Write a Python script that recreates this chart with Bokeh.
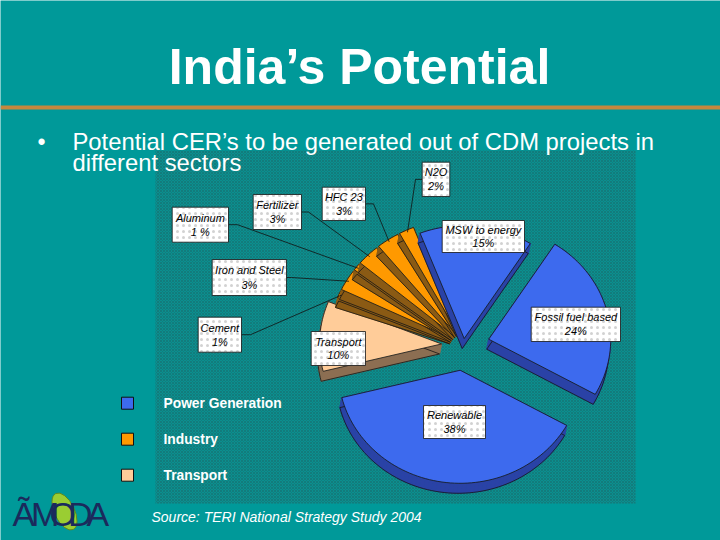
import numpy as np
from bokeh.plotting import figure
from bokeh.models import Range1d
from bokeh.embed import file_html
from bokeh.resources import INLINE
from bokeh.core.properties import value

# ---------------- data ----------------
sectors = ["Renewable", "Fossil fuel based", "MSW to energy", "N2O", "HFC 23",
           "Fertilizer", "Aluminum", "Iron and Steel", "Cement", "Transport"]
shares = [38, 24, 15, 2, 3, 3, 1, 3, 1, 10]
share_labels = ["38%", "24%", "15%", "2%", "3%", "3%", "1 %", "3%", "1%", "10%"]
sector_group = ["Power Generation", "Power Generation", "Power Generation",
                "Industry", "Industry", "Industry", "Industry", "Industry", "Industry",
                "Transport"]
legend_groups = ["Power Generation", "Industry", "Transport"]

title = "India\u2019s Potential"
bullet_lines = ["Potential CER\u2019s to be generated out of CDM projects in", "different sectors"]
source = "Source: TERI National Strategy Study 2004"
logo_letters = ["\u00c3", "M", "O", "D", "A"]

# ---------------- styles / layout ----------------
BG = "#009999"
top_col = {"Power Generation": "#3D6AEE", "Industry": "#FF9900", "Transport": "#FFCC99"}
side_col = {"Power Generation": "#2A42A6", "Industry": "#8A5A14", "Transport": "#8C6E52"}
CX, CY = 463, 345          # pie centre (px)
RX, RY = 122, 113          # pie radii
START = 194                # start angle (deg)
EXT = (-2, 10)             # extrusion of rim
explode = [25, 26, 7, 14, 14, 14, 14, 14, 14, 22]
apex_ext = {"Power Generation": (-2, 10), "Industry": (-1, 4), "Transport": (-2, 10)}
# label boxes: left, top, width, height, leader attach side, elbow x
boxes = {
    "N2O": (421.7, 161.7, 27.6, 34.3, "left", 415),
    "HFC 23": (321.7, 186.7, 43.3, 33.3, "right", 373),
    "Fertilizer": (252.7, 194, 48.3, 35, "right", 308),
    "Aluminum": (171.7, 206.7, 56.3, 35, "right", 237),
    "Iron and Steel": (211.7, 259, 74.3, 36, "right", 291),
    "Cement": (197.7, 316.7, 43.3, 35, "right", 250),
    "Transport": (310.7, 331, 54.3, 34, None, None),
    "MSW to energy": (441.7, 220, 82.3, 32, None, None),
    "Fossil fuel based": (530.7, 306.7, 89.3, 34.3, None, None),
    "Renewable": (423, 405, 62, 33, None, None),
}

p = figure(width=720, height=540, x_range=Range1d(0, 720), y_range=Range1d(540, 0),
           output_backend="svg", toolbar_location=None, x_axis_type=None, y_axis_type=None,
           min_border=0, min_border_left=0, min_border_right=0, min_border_top=0,
           min_border_bottom=0)
p.outline_line_color = None
p.background_fill_color = BG
p.border_fill_color = BG
p.grid.visible = False

# title + rule
p.text(x=[359], y=[66], text=[title], text_font=value("Liberation Sans"), text_font_style="bold",
       text_font_size="50px", text_color="white", text_align="center", text_baseline="middle")
p.segment(x0=[0], y0=[107], x1=[720], y1=[107], line_width=4, line_color="#C4873E")

# chart area
p.quad(left=[155], right=[635], top=[150], bottom=[503], fill_color="#0b8f8f", line_color=None,
       hatch_pattern="diagonal_cross", hatch_color="#1c5c5c", hatch_alpha=0.55,
       hatch_scale=3, hatch_weight=0.7)

# bullet text
p.text(x=[37], y=[141], text=["\u2022"], text_font=value("Liberation Sans"), text_font_size="23px",
       text_color="white", text_baseline="middle")
for k, line in enumerate(bullet_lines):
    p.text(x=[72], y=[141 + 21 * k], text=[line], text_font=value("Liberation Sans"),
           text_font_size="23.8px", text_color="white", text_baseline="middle")

# ---------------- pie geometry ----------------
total = float(sum(shares))
cum = np.concatenate([[0], np.cumsum(shares)])
ang0 = START + 360.0 * cum[:-1] / total
ang1 = START + 360.0 * cum[1:] / total

geo = {}
for i, name in enumerate(sectors):
    a0, a1 = ang0[i], ang1[i]
    m = np.radians((a0 + a1) / 2)
    e = explode[i]
    cx = CX + e * np.cos(m)
    cy = CY - e * np.sin(m)
    n = max(3, int((a1 - a0) / 2) + 2)
    t = np.radians(np.linspace(a0, a1, n))
    xs = cx + RX * np.cos(t)
    ys = cy - RY * np.sin(t)
    geo[name] = (cx, cy, xs, ys, m)

draw_order = ["Transport", "Cement", "Iron and Steel", "Aluminum", "Fertilizer", "HFC 23",
              "N2O", "MSW to energy", "Fossil fuel based", "Renewable"]

for name in draw_order:
    i = sectors.index(name)
    g = sector_group[i]
    cx, cy, xs, ys, m = geo[name]
    vx, vy = EXT
    ax, ay = apex_ext[g]
    qx, qy = [], []
    for k in range(len(xs) - 1):
        qx.append([xs[k], xs[k + 1], xs[k + 1] + vx, xs[k] + vx])
        qy.append([ys[k], ys[k + 1], ys[k + 1] + vy, ys[k] + vy])
    for k in (0, -1):
        qx.append([cx, xs[k], xs[k] + vx, cx + ax])
        qy.append([cy, ys[k], ys[k] + vy, cy + ay])
    p.patches(qx, qy, fill_color=side_col[g], line_color=side_col[g], line_width=0.8)
    bx = [cx + ax] + list(xs + vx) + [cx + ax]
    by = [cy + ay] + list(ys + vy) + [cy + ay]
    p.line(bx, by, line_color="#151515", line_width=0.8)
    p.patch([cx] + list(xs), [cy] + list(ys), fill_color=top_col[g], line_color="#151515",
            line_width=0.8)

# ---------------- labels ----------------
for i, name in enumerate(sectors):
    x0, y0, w, h, side, elbow = boxes[name]
    if side is not None:
        cx, cy, xs, ys, m = geo[name]
        rxp = cx + 0.98 * RX * np.cos(m)
        ryp = cy - 0.98 * RY * np.sin(m)
        ax_ = x0 if side == "left" else x0 + w
        ay_ = y0 + h / 2
        p.line([ax_, elbow, rxp], [ay_, ay_, ryp], line_color="#111111", line_width=0.8)
    p.quad(left=[x0], right=[x0 + w], top=[y0], bottom=[y0 + h], fill_color="white",
           line_color="#111111", line_width=0.8, hatch_pattern="dot", hatch_color="#d2d2d2",
           hatch_scale=6, hatch_weight=0.25)
    p.text(x=[x0 + w / 2, x0 + w / 2], y=[y0 + h * 0.30, y0 + h * 0.70],
           text=[name, share_labels[i]], text_font=value("Liberation Sans"),
           text_font_style="italic", text_font_size="11px", text_color="black",
           text_align="center", text_baseline="middle")

# ---------------- legend ----------------
for k, gname in enumerate(legend_groups):
    yc = 402.7 + 36 * k
    p.quad(left=[121], right=[133], top=[yc - 6], bottom=[yc + 6], fill_color=top_col[gname],
           line_color="#111111", line_width=1)
    p.text(x=[163], y=[yc], text=[gname], text_font=value("Liberation Sans"),
           text_font_style="bold", text_font_size="13.8px", text_color="white",
           text_baseline="middle")

# source
p.text(x=[151], y=[516], text=[source], text_font=value("Liberation Sans"),
       text_font_style="italic", text_font_size="14px", text_color="white",
       text_baseline="middle")

# logo
p.ellipse(x=[64], y=[511], width=20, height=40, angle=0.45, fill_color="#9ACD32",
          line_color="#5f8a1e", line_width=1)
logo_x = [12 + 18.5 * k for k in range(len(logo_letters))]
p.text(x=logo_x, y=[513] * len(logo_letters), text=logo_letters,
       text_font=value("Liberation Sans"), text_font_size="34px", text_color="#1b2a5c",
       text_baseline="middle", text_align="left")

open("out.html", "w").write(file_html(p, INLINE))
